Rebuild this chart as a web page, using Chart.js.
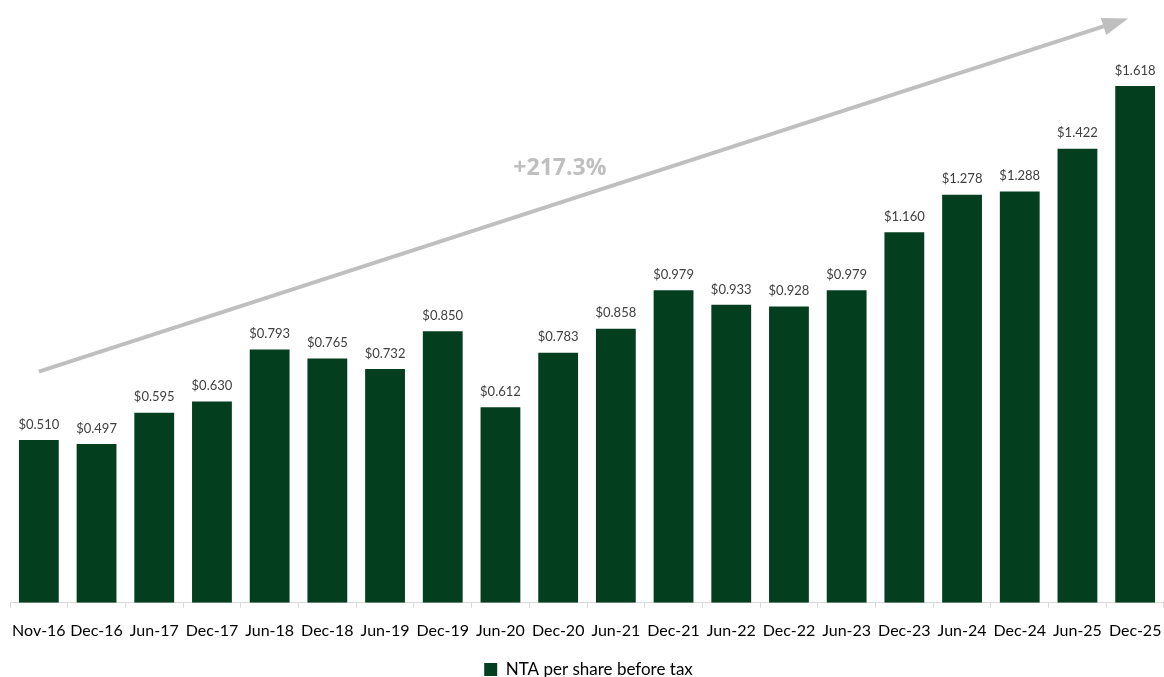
<!DOCTYPE html>
<html>
<head>
<meta charset="utf-8">
<script src="https://cdn.jsdelivr.net/npm/chart.js@4.4.1/dist/chart.umd.min.js"></script>
<style>
  html, body { margin: 0; padding: 0; background: #fff; }
  #wrap { width: 1164px; height: 677px; }
</style>
</head>
<body>
<div id="wrap"><canvas id="grafico"></canvas></div>
<script>
const periodos = ["Nov-16", "Dec-16", "Jun-17", "Dec-17", "Jun-18", "Dec-18", "Jun-19", "Dec-19", "Jun-20", "Dec-20",
    "Jun-21", "Dec-21", "Jun-22", "Dec-22", "Jun-23", "Dec-23", "Jun-24", "Dec-24", "Jun-25", "Dec-25"];
const ntaAntesImposto = [0.510, 0.497, 0.595, 0.630, 0.793, 0.765, 0.732, 0.850, 0.612, 0.783,
    0.858, 0.979, 0.933, 0.928, 0.979, 1.160, 1.278, 1.288, 1.422, 1.618];
const nomeSerie = "NTA per share before tax";
const crescimentoTexto = "+217.3%";
// seta de crescimento em unidades do gráfico: [índice da categoria, valor]
const setaInicio = [0, 0.724];
const setaFim = [18.88, 1.83];
const textoPos = [9.03, 1.36];

const VERDE = "#033f1e";
const CINZA = "#bfbfbf";

function formatCurrency(v) {
    return `$${Number(v).toFixed(3)}`;
}

// rótulos acima das barras
const rotulosPlugin = {
    id: "rotulos",
    afterDatasetsDraw(chart) {
        const ctx = chart.ctx;
        const meta = chart.getDatasetMeta(0);
        ctx.save();
        ctx.font = "13px Lato";
        ctx.fillStyle = "#404040";
        ctx.textAlign = "center";
        ctx.textBaseline = "bottom";
        meta.data.forEach((bar, i) => {
            ctx.fillText(formatCurrency(ntaAntesImposto[i]), bar.x, bar.y - 9);
        });
        ctx.restore();
    }
};

// seta + texto de crescimento
const setaPlugin = {
    id: "seta",
    afterDatasetsDraw(chart) {
        const { ctx, scales: { x, y } } = chart;
        const x0 = x.getPixelForValue(setaInicio[0]), y0 = y.getPixelForValue(setaInicio[1]);
        const x1 = x.getPixelForValue(setaFim[0]), y1 = y.getPixelForValue(setaFim[1]);
        const ang = Math.atan2(y1 - y0, x1 - x0);
        const head = 26, halfW = 9;
        const bx = x1 - head * Math.cos(ang), by = y1 - head * Math.sin(ang);
        ctx.save();
        ctx.strokeStyle = CINZA;
        ctx.fillStyle = CINZA;
        ctx.lineWidth = 4;
        ctx.beginPath();
        ctx.moveTo(x0, y0);
        ctx.lineTo(bx, by);
        ctx.stroke();
        ctx.beginPath();
        ctx.moveTo(x1, y1);
        ctx.lineTo(bx + halfW * Math.sin(ang), by - halfW * Math.cos(ang));
        ctx.lineTo(bx - halfW * Math.sin(ang), by + halfW * Math.cos(ang));
        ctx.closePath();
        ctx.fill();

        ctx.font = "bold 23px 'Open Sans'";
        ctx.textAlign = "center";
        ctx.textBaseline = "middle";
        ctx.fillText(crescimentoTexto, x.getPixelForValue(textoPos[0]), y.getPixelForValue(textoPos[1]));
        ctx.restore();
    }
};

const ctx = document.getElementById("grafico").getContext("2d");
new Chart(ctx, {
    type: "bar",
    data: {
        labels: periodos,
        datasets: [{
            label: nomeSerie,
            data: ntaAntesImposto,
            backgroundColor: VERDE,
            borderWidth: 0,
            categoryPercentage: 1,
            barPercentage: 0.69
        }]
    },
    options: {
        responsive: true,
        maintainAspectRatio: false,
        animation: false,
        layout: { padding: { left: 10, right: -3, top: 28, bottom: -11 } },
        plugins: {
            legend: {
                position: "bottom",
                labels: {
                    font: { family: "Lato", size: 17 },
                    color: "#000",
                    boxWidth: 13,
                    boxHeight: 13,
                    padding: 8
                }
            },
            tooltip: { enabled: false }
        },
        scales: {
            x: {
                afterFit(scale) {
                    // sem recuo extra para o último rótulo
                    scale.paddingLeft = 0;
                    scale.paddingRight = 0;
                },
                grid: {
                    display: true,
                    drawOnChartArea: false,
                    drawTicks: true,
                    tickLength: 5,
                    offset: true,
                    color: "#d9d9d9"
                },
                border: { color: "#d9d9d9", width: 1 },
                ticks: {
                    font: { family: "Lato", size: 16 },
                    color: "#000",
                    maxRotation: 0,
                    autoSkip: false,
                    padding: 13
                }
            },
            y: {
                display: false,
                min: 0,
                max: 1.8
            }
        }
    },
    plugins: [rotulosPlugin, setaPlugin]
});
</script>
</body>
</html>
